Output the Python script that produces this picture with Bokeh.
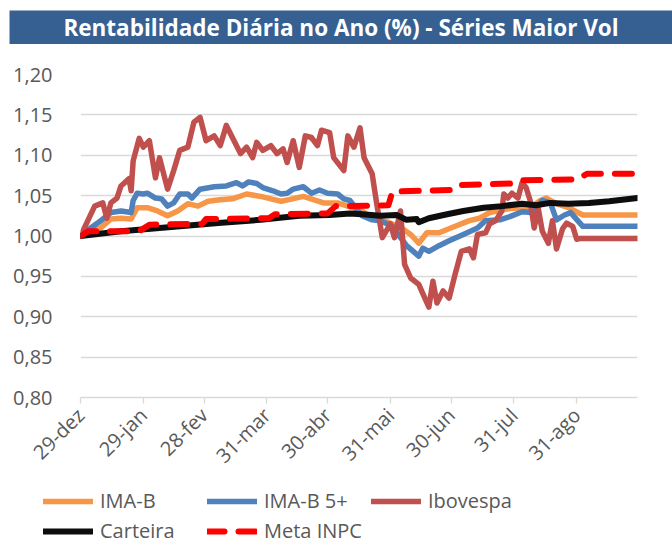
import math
from bokeh.plotting import figure
from bokeh.models import Legend, LegendItem, FixedTicker, Range1d, CustomJSTickFormatter
from bokeh.layouts import column
from bokeh.embed import file_html
from bokeh.resources import INLINE
from bokeh.core.properties import value

title_text = "Rentabilidade Diária no Ano (%) - Séries Maior Vol"

x_tick_days = [0, 31, 61, 92, 122, 153, 183, 214, 245]
x_tick_labels = ["29-dez", "29-jan", "28-fev", "31-mar", "30-abr", "31-mai", "30-jun", "31-jul", "31-ago"]
y_ticks = [0.80, 0.85, 0.90, 0.95, 1.00, 1.05, 1.10, 1.15, 1.20]
y_tick_labels = ["0,80", "0,85", "0,90", "0,95", "1,00", "1,05", "1,10", "1,15", "1,20"]

series_names = ["IMA-B", "IMA-B 5+", "Ibovespa", "Carteira", "Meta INPC"]

imab_days = [0, 5, 10, 15, 20, 25, 28, 33, 38, 43, 48, 53, 58, 63, 69, 75, 82, 89, 94, 99, 103, 110, 115, 120,
             127, 133, 139, 144, 152, 159, 163, 167, 171, 177, 185, 192, 197, 202, 212, 222, 227, 230, 235, 241, 248, 275]
imab_vals = [1.000, 1.006, 1.010, 1.021, 1.022, 1.021, 1.035, 1.035, 1.031, 1.025, 1.031, 1.040, 1.037, 1.043,
             1.045, 1.046, 1.052, 1.049, 1.046, 1.043, 1.045, 1.049, 1.045, 1.041, 1.041, 1.036, 1.031, 1.022,
             1.017, 1.009, 1.002, 0.991, 1.004, 1.004, 1.012, 1.019, 1.022, 1.029, 1.034, 1.035, 1.044, 1.047,
             1.040, 1.035, 1.026, 1.026]

imab5_days = [0, 5, 10, 15, 20, 25, 26, 28, 31, 33, 37, 40, 43, 46, 49, 53, 55, 59, 66, 72, 77, 80, 83, 87, 90,
              95, 99, 102, 105, 110, 114, 118, 122, 127, 130, 133, 139, 144, 148, 154, 158, 161, 167, 169, 172,
              177, 182, 189, 196, 200, 207, 212, 218, 223, 228, 232, 235, 239, 242, 248, 275]
imab5_vals = [1.000, 1.010, 1.019, 1.029, 1.031, 1.029, 1.044, 1.053, 1.052, 1.053, 1.047, 1.046, 1.037, 1.041,
              1.052, 1.052, 1.047, 1.058, 1.061, 1.062, 1.066, 1.062, 1.067, 1.065, 1.060, 1.056, 1.052, 1.053,
              1.058, 1.061, 1.053, 1.057, 1.053, 1.052, 1.046, 1.044, 1.025, 1.020, 1.019, 1.012, 0.998, 0.988,
              0.975, 0.985, 0.981, 0.988, 0.994, 1.002, 1.010, 1.019, 1.020, 1.024, 1.030, 1.029, 1.044, 1.041,
              1.020, 1.026, 1.029, 1.012, 1.012]

ibov_days = [0, 7, 11, 13, 15, 18, 20, 24, 25, 26, 29, 31, 34, 37, 39, 43, 46, 49, 53, 56, 59, 62, 66, 69, 72,
             75, 79, 82, 85, 87, 90, 94, 97, 100, 102, 105, 108, 111, 114, 117, 119, 123, 125, 130, 132, 135,
             138, 140, 144, 146, 149, 153, 155, 158, 160, 163, 167, 170, 172, 174, 176, 179, 182, 185, 188, 192,
             194, 196, 200, 202, 205, 208, 209, 211, 213, 216, 218, 220, 222, 224, 226, 228, 231, 233, 235, 238,
             240, 243, 245, 247, 275]
ibov_vals = [1.000, 1.037, 1.041, 1.022, 1.041, 1.047, 1.062, 1.071, 1.056, 1.093, 1.121, 1.110, 1.118, 1.072,
             1.097, 1.058, 1.081, 1.106, 1.110, 1.141, 1.147, 1.118, 1.124, 1.112, 1.137, 1.122, 1.102, 1.110,
             1.097, 1.116, 1.106, 1.112, 1.102, 1.108, 1.091, 1.118, 1.085, 1.124, 1.122, 1.112, 1.131, 1.128,
             1.097, 1.081, 1.124, 1.110, 1.134, 1.097, 1.077, 1.044, 0.998, 1.015, 0.998, 1.031, 0.965, 0.948,
             0.940, 0.923, 0.912, 0.944, 0.917, 0.932, 0.923, 0.953, 0.981, 0.984, 0.973, 1.002, 1.004, 1.015,
             1.019, 1.031, 1.052, 1.047, 1.053, 1.047, 1.066, 1.060, 1.044, 1.010, 1.034, 1.006, 0.991, 1.019,
             0.984, 1.009, 1.016, 1.012, 0.996, 0.997, 0.997]

cart_days = [0, 20, 39, 68, 89, 108, 123, 133, 139, 148, 156, 161, 166, 167, 172, 181, 189, 199, 208, 218, 225,
             232, 241, 251, 261, 275]
cart_vals = [1.000, 1.006, 1.010, 1.016, 1.020, 1.025, 1.026, 1.028, 1.027, 1.025, 1.026, 1.020, 1.021, 1.017,
             1.022, 1.027, 1.031, 1.035, 1.037, 1.040, 1.038, 1.041, 1.040, 1.041, 1.043, 1.047]

meta_days = [0, 4, 29, 34, 60, 62, 93, 96, 122, 126, 152, 154, 183, 186, 213, 217, 245, 250, 275]
meta_vals = [1.000, 1.006, 1.006, 1.014, 1.015, 1.021, 1.022, 1.027, 1.028, 1.037, 1.038, 1.055, 1.057, 1.063,
             1.065, 1.069, 1.070, 1.077, 1.077]

colors = ["#F79646", "#4F81BD", "#C0504D", "#0D0D0D", "#FF0000"]
widths = [5.5, 5.5, 5.5, 6, 6]
dashes = ["solid", "solid", "solid", "solid", "17 14"]
FONT = "Open Sans"
LABEL_COLOR = "#595959"
GRID_COLOR = "#D9D9D9"
BAR_COLOR = "#366092"

LOOKUP = """
for (let i = 0; i < tvals.length; i++) { if (Math.abs(tvals[i] - tick) < 1e-6) return tlabels[i]; }
return "";
"""

# ---------------- title bar ----------------
tf = figure(width=672, height=44, x_range=Range1d(0, 1), y_range=Range1d(0, 1),
            toolbar_location=None, output_backend="svg",
            min_border_left=9, min_border_right=0, min_border_top=10, min_border_bottom=0,
            x_axis_location=None, y_axis_location=None,
            outline_line_color=None, background_fill_color=BAR_COLOR, border_fill_color="white")
tf.frame_align = False
tf.grid.visible = False
tf.text(x=[0.5], y=[0.5], text=[title_text], text_align="center", text_baseline="middle",
        text_color="white", text_font=value(FONT), text_font_style="bold", text_font_size="22.5px")

# ---------------- main chart ----------------
p = figure(width=672, height=439, x_range=Range1d(0, 275), y_range=Range1d(0.80, 1.20),
           toolbar_location=None, output_backend="svg",
           min_border_left=80, min_border_right=35, min_border_top=30, min_border_bottom=86,
           outline_line_color=None, background_fill_color="white", border_fill_color="white")
p.frame_align = False

p.xgrid.grid_line_color = None
p.ygrid.grid_line_color = GRID_COLOR
p.ygrid.grid_line_width = 1.3

p.yaxis.ticker = FixedTicker(ticks=y_ticks)
p.yaxis.formatter = CustomJSTickFormatter(args=dict(tvals=y_ticks, tlabels=y_tick_labels), code=LOOKUP)
p.yaxis.axis_line_color = None
p.yaxis.major_tick_line_color = None
p.yaxis.minor_tick_line_color = None
p.yaxis.major_label_standoff = 22
p.yaxis.major_label_text_font = FONT
p.yaxis.major_label_text_font_size = "20px"
p.yaxis.major_label_text_color = LABEL_COLOR

p.xaxis.ticker = FixedTicker(ticks=x_tick_days)
p.xaxis.formatter = CustomJSTickFormatter(args=dict(tvals=x_tick_days, tlabels=x_tick_labels), code=LOOKUP)
p.xaxis.axis_line_color = GRID_COLOR
p.xaxis.axis_line_width = 1.3
p.xaxis.major_tick_line_color = GRID_COLOR
p.xaxis.major_tick_line_width = 1.3
p.xaxis.major_tick_out = 6
p.xaxis.major_tick_in = 0
p.xaxis.minor_tick_line_color = None
p.xaxis.major_label_orientation = math.pi / 4
p.xaxis.major_label_standoff = 8
p.xaxis.major_label_text_font = FONT
p.xaxis.major_label_text_font_size = "20px"
p.xaxis.major_label_text_color = LABEL_COLOR

all_days = [imab_days, imab5_days, ibov_days, cart_days, meta_days]
all_vals = [imab_vals, imab5_vals, ibov_vals, cart_vals, meta_vals]
for d, v, c, w, ds in zip(all_days, all_vals, colors, widths, dashes):
    p.line(d, v, line_color=c, line_width=w, line_join="round", line_cap="round", line_dash=ds)

# ---------------- legend strip ----------------
lf = figure(width=672, height=63, x_range=Range1d(0, 1), y_range=Range1d(2, 3),
            toolbar_location=None, output_backend="svg", min_border=0,
            x_axis_location=None, y_axis_location=None,
            outline_line_color=None, background_fill_color="white", border_fill_color="white")
lf.frame_align = False
lf.grid.visible = False

# legend keys: one-point series (nothing drawn in this strip, only the legend swatches)
proxies = []
for d, v, c, w, ds in zip(all_days, all_vals, colors, widths, dashes):
    proxies.append(lf.line(x=d[:1], y=v[:1], line_color=c, line_width=w, line_cap="round",
                           line_join="round", line_dash=ds))

legend = Legend(items=[LegendItem(label=n, renderers=[r]) for n, r in zip(series_names, proxies)],
                location=(43, 2), orientation="horizontal", ncols=3,
                padding=0, margin=0, spacing=3,
                glyph_width=50, glyph_height=24, label_height=24, label_width=104, label_standoff=7,
                border_line_color=None, background_fill_alpha=0,
                label_text_font=FONT, label_text_font_size="20px", label_text_color=LABEL_COLOR)
lf.add_layout(legend, "center")

layout = column(tf, p, lf, spacing=0)
open("out.html", "w").write(file_html(layout, INLINE))
